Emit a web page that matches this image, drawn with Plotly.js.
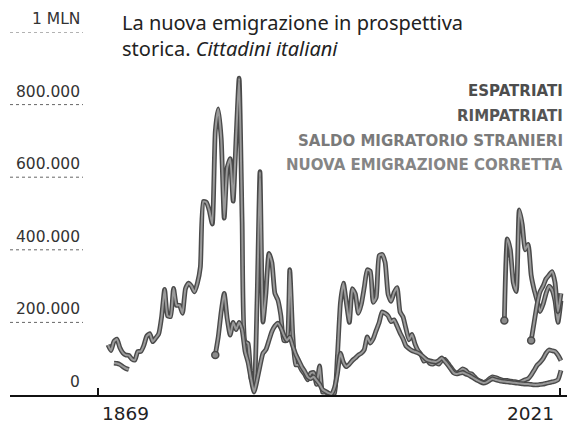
<!DOCTYPE html>
<html>
<head>
<meta charset="utf-8">
<script src="https://cdn.plot.ly/plotly-3.0.1.min.js"></script>
<style>html,body{margin:0;padding:0;background:#fff}#chart{width:567px;height:435px}</style>
</head>
<body>
<div id="chart"></div>
<script>
// ---- DATA (values in thousands) ----
const espatriatiStart = 1869;
const espatriati = [
 138,122,148,154,130,116,110,109,99,96,            // 1869-1878
 120,120,136,162,169,147,157,168,216,291,          // 1879-1888
 218,216,294,247,247,225,293,308,300,284,          // 1889-1898
 308,353,533,531,508,471,726,788,705,487,          // 1899-1908
 626,651,534,711,873,479,147,142,46,28,            // 1909-1918
 253,615,201,281,390,365,280,262,219,150,          // 1919-1928
 150,345,166,83,83,68,57,42,60,62,                 // 1929-1938
 29,80,8,8,3,2,5,110,254,308,                      // 1939-1948
 254,200,293,278,225,250,297,345,341,255,          // 1949-1958
 269,384,387,365,277,258,282,296,229,215,          // 1959-1968
 182,152,167,141,123,112,93,97,87,85,              // 1969-1978
 89,85,95,98,88,77,66,60,65,72,                    // 1979-1988
 68,60,58,50,42,38,35,38,45,50,                    // 1989-1998
 48,45,42,40,40,38,37,36,35,38,                    // 1999-2008
 42,45,55,68,82,90,100,115,124,122,                // 2009-2018
 120,110,95                                        // 2019-2021
];
const rimpatriatiEarlyStart = 1871;
const rimpatriatiEarly = [88,87,84,78,73,70];
const rimpatriatiStart = 1905;
const rimpatriati = [
 110,160,230,280,210,165,200,180,200,180,          // 1905-1914
 120,90,45,8,40,80,115,125,150,175,                // 1915-1924
 190,198,185,165,150,160,135,112,95,78,            // 1925-1934
 65,50,45,50,40,30,15,10,5,3,                      // 1935-1944
 20,60,115,90,78,85,95,102,110,115,                // 1945-1954
 125,160,143,155,178,200,229,225,218,202,          // 1955-1964
 207,190,171,155,135,128,122,119,116,111,          // 1965-1974
 104,97,94,92,91,95,102,93,83,72,                  // 1975-1984
 61,58,60,62,58,55,50,45,40,36,                    // 1985-1994
 33,35,40,45,42,40,38,37,36,35,                    // 1995-2004
 34,33,32,31,30,30,29,28,28,29,                    // 2005-2014
 30,32,34,36,38,42,68                              // 2015-2021
];
const saldoStart = 2002;
const saldoStranieri = [205,430,400,310,285,510,470,400,415,330,290,260,230,250,280,300,290,260,200,260];
const nuovaStart = 2011;
const nuovaEmigrazione = [150,200,250,285,300,320,330,340,310,230,280];

const seriesNames = ['ESPATRIATI','RIMPATRIATI','SALDO MIGRATORIO STRANIERI','NUOVA EMIGRAZIONE CORRETTA'];
const yTickVals = [0,200000,400000,600000,800000,1000000];
const yTickText = ['0','200.000','400.000','600.000','800.000','1 MLN'];
const xTickVals = [1869, 2021];
const xTickText = ['1869','2021'];
const titleText = 'La nuova emigrazione in prospettiva<br>storica. <i>Cittadini italiani</i>';

// ---- BUILD ----
const yrs = (s, arr) => arr.map((_, i) => s + i);
const k = arr => arr.map(v => v == null ? null : v * 1000);

const series = [
  {x: yrs(espatriatiStart, espatriati), y: k(espatriati), dot: false},
  {x: yrs(rimpatriatiEarlyStart, rimpatriatiEarly).concat([null], yrs(rimpatriatiStart, rimpatriati)),
   y: k(rimpatriatiEarly).concat([null], k(rimpatriati)), dot: true, dotIndex: rimpatriatiEarly.length + 1},
  {x: yrs(saldoStart, saldoStranieri), y: k(saldoStranieri), dot: true, dotIndex: 0},
  {x: yrs(nuovaStart, nuovaEmigrazione), y: k(nuovaEmigrazione), dot: true, dotIndex: 0}
];

const traces = [];
series.forEach((s, si) => {
  traces.push({x: s.x, y: s.y, type: 'scatter', mode: 'lines', connectgaps: false,
    line: {color: '#4a4a4a', width: 4.8, shape: 'spline', smoothing: 0.5}, hoverinfo: 'skip', showlegend: false, cliponaxis: true});
  traces.push({x: s.x, y: s.y, type: 'scatter', mode: 'lines', connectgaps: false, name: seriesNames[si],
    line: {color: '#9a9a9a', width: 2, shape: 'spline', smoothing: 0.5}, showlegend: false, cliponaxis: true});
  if (s.dot) {
    traces.push({x: [s.x[s.dotIndex]], y: [s.y[s.dotIndex]], type: 'scatter', mode: 'markers',
      marker: {size: 7, color: '#8a8a8a', line: {color: '#4a4a4a', width: 1.5}}, showlegend: false, hoverinfo: 'skip', cliponaxis: false});
  }
});

const L = 10, W = 557, T = 32, H = 363;
const pxToPaperX = px => (px - L) / W;
const pyToPaperY = py => (395 - py) / H;

const annotations = [];
const shapes = [];
yTickVals.forEach((v, i) => {
  annotations.push({xref: 'paper', yref: 'y', x: pxToPaperX(82), y: v, xanchor: 'right', yanchor: 'bottom',
    yshift: 2, text: yTickText[i], showarrow: false,
    font: {family: 'DejaVu Sans', size: 15.5, color: '#333'}});
  if (v > 0) shapes.push({type: 'line', xref: 'paper', yref: 'y', x0: 0, x1: pxToPaperX(83), y0: v, y1: v,
    line: {color: '#666', width: 1, dash: 'dot'}});
});
// x tick labels
annotations.push({xref: 'x', yref: 'paper', x: xTickVals[0], y: 0, xanchor: 'center', yanchor: 'top', yshift: -6, xshift: 17,
  text: xTickText[0], showarrow: false, font: {family: 'DejaVu Sans', size: 18.5, color: '#222'}});
annotations.push({xref: 'x', yref: 'paper', x: xTickVals[1], y: 0, xanchor: 'center', yanchor: 'top', yshift: -6, xshift: -30,
  text: xTickText[1], showarrow: false, font: {family: 'DejaVu Sans', size: 18.5, color: '#222'}});
// legend labels
const legColors = ['#4d4d4d', '#555555', '#7a7a7a', '#858585'];
const legY = [91, 116, 141, 165];
seriesNames.forEach((n, i) => {
  annotations.push({xref: 'paper', yref: 'paper', x: pxToPaperX(565), y: pyToPaperY(legY[i]), xanchor: 'right', yanchor: 'middle',
    text: '<b>' + n + '</b>', showarrow: false, font: {family: 'DejaVu Sans', size: 15, color: legColors[i]}});
});
// title
annotations.push({xref: 'paper', yref: 'paper', x: pxToPaperX(120), y: pyToPaperY(7), xanchor: 'left', yanchor: 'top',
  align: 'left', text: titleText, showarrow: false, font: {family: 'Noto Sans', size: 20, color: '#222'}});

const layout = {
  width: 567, height: 435,
  margin: {l: L, r: 0, t: T, b: 40, pad: 0},
  paper_bgcolor: '#fff', plot_bgcolor: '#fff',
  showlegend: false,
  xaxis: {range: [1869 - 98 / 2.98, 1869 + 459 / 2.98], showgrid: false, zeroline: false,
    showline: true, linecolor: '#111', linewidth: 1.6,
    tickvals: [1869 - 10 / 2.98, 2021 - 1 / 2.98], ticks: 'inside', ticklen: 7, tickwidth: 1.5, tickcolor: '#111',
    showticklabels: false, fixedrange: true},
  yaxis: {range: [0, 1000000], visible: false, showgrid: false, zeroline: false, fixedrange: true},
  annotations: annotations,
  shapes: shapes
};

Plotly.newPlot('chart', traces, layout, {staticPlot: true, displayModeBar: false});
</script>
</body>
</html>
